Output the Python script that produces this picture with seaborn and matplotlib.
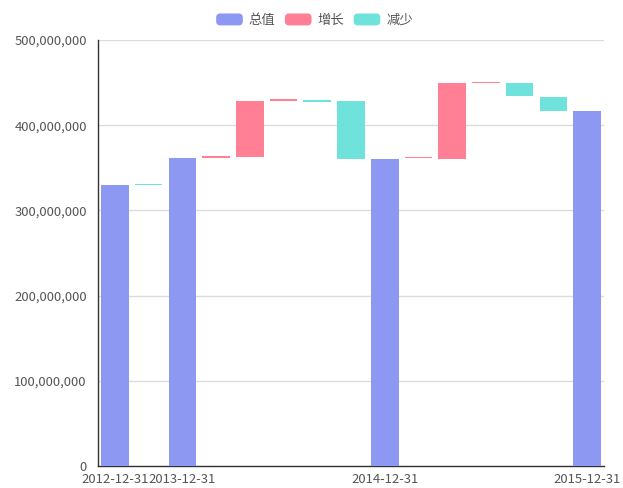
import pandas as pd
import matplotlib
matplotlib.use("Agg")
import matplotlib.pyplot as plt
import seaborn as sns
from matplotlib.patches import FancyBboxPatch, Patch
from matplotlib.legend_handler import HandlerPatch
from matplotlib.ticker import FuncFormatter

# categories (only some labels are shown on the axis)
categories = [f"c{i}" for i in range(15)]
tick_labels = ["2012-12-31", "", "2013-12-31", "", "", "", "", "",
               "2014-12-31", "", "", "", "", "", "2015-12-31"]
kinds = ["总值", "减少", "总值", "增长", "增长", "增长", "减少", "减少",
         "总值", "增长", "增长", "增长", "减少", "减少", "总值"]
# bottom / top of every bar (values)
bar_low = [0, 329.8e6, 0, 361.8e6, 362.2e6, 428.6e6, 427.6e6, 360.8e6,
           0, 361.2e6, 360.6e6, 449.4e6, 434.0e6, 417.0e6, 0]
bar_high = [329.6e6, 331.2e6, 361.6e6, 363.4e6, 428.4e6, 430.2e6, 429.2e6, 428.4e6,
            360.6e6, 362.8e6, 449.2e6, 451.0e6, 449.2e6, 432.8e6, 416.4e6]

colors = {"总值": "#8c98f2", "增长": "#ff7f95", "减少": "#6fe3db"}

df = pd.DataFrame({"cat": categories, "kind": kinds, "low": bar_low, "high": bar_high})
df["height"] = df["high"] - df["low"]

sns.set_style("white")
plt.rcParams["font.family"] = ["Noto Sans CJK SC", "DejaVu Sans"]

fig = plt.figure(figsize=(6.23, 4.88), dpi=100)
ax = fig.add_axes([98 / 623, 1 - 466 / 488, 506 / 623, 426 / 488])

for k in ["总值", "增长", "减少"]:
    sub = df[df["kind"] == k]
    sns.barplot(data=sub, x="cat", y="height", order=categories, color=colors[k],
                bottom=sub["low"].values, width=0.82, saturation=1, errorbar=None,
                ax=ax, zorder=3, linewidth=0)

ax.set_xlim(-0.5, 14.5)
ax.set_ylim(0, 500e6)
ax.set_yticks([i * 100e6 for i in range(6)])
ax.yaxis.set_major_formatter(FuncFormatter(lambda v, p: f"{int(v):,}"))
ax.grid(axis="y", color="#dcdcdc", linewidth=1, zorder=0)
ax.set_axisbelow(True)

ax.set_xticks(range(15))
ax.set_xticklabels(tick_labels)
ax.set_xticks([i - 0.5 for i in range(16)], minor=True)
ax.tick_params(axis="x", which="major", length=0, pad=5, labelsize=9.4, colors="#555")
ax.tick_params(axis="x", which="minor", length=5, color="#333")
ax.tick_params(axis="y", length=5, color="#333", pad=3, labelsize=9.4, labelcolor="#555")
ax.set_xlabel("")
ax.set_ylabel("")

for s in ["top", "right"]:
    ax.spines[s].set_visible(False)
for s in ["left", "bottom"]:
    ax.spines[s].set_color("#333")
    ax.spines[s].set_linewidth(1)


class RoundHandler(HandlerPatch):
    def create_artists(self, legend, orig_handle, xdescent, ydescent, width, height, fontsize, trans):
        p = FancyBboxPatch((-xdescent, -ydescent), width, height,
                           boxstyle="round,pad=0,rounding_size=3",
                           facecolor=orig_handle.get_facecolor(), edgecolor="none")
        p.set_transform(trans)
        return [p]


handles = [Patch(facecolor=colors[k], edgecolor="none", label=k) for k in ["总值", "增长", "减少"]]
leg = fig.legend(handles=handles, loc="center", bbox_to_anchor=(0.505, 1 - 20 / 488), ncol=3,
                 frameon=False, handlelength=2.0, handleheight=1.0, handletextpad=0.45,
                 columnspacing=0.7, fontsize=9.6, handler_map={Patch: RoundHandler()})
for t in leg.get_texts():
    t.set_color("#555")

fig.savefig("out.png", dpi=100)
